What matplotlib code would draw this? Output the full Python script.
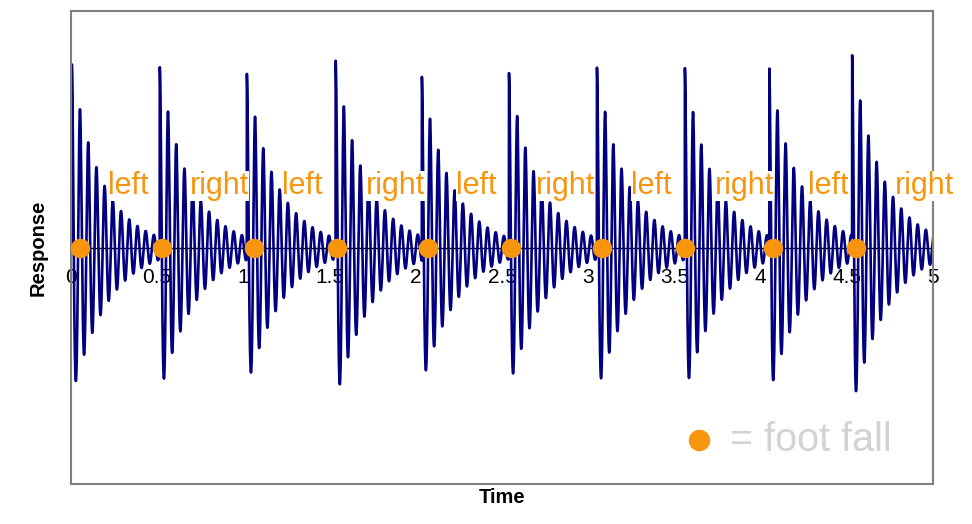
import numpy as np
import matplotlib
matplotlib.use('Agg')
import matplotlib.pyplot as plt

plt.rcParams['font.family'] = ['Liberation Sans', 'DejaVu Sans']

# moments where each foot lands (start of each response burst)
impact_times = [0.005, 0.515, 1.02, 1.535, 2.035, 2.54, 3.05, 3.56, 4.05, 4.53]
# where the orange foot-fall dots sit on the time axis
dot_times = [0.05, 0.53, 1.06, 1.54, 2.07, 2.55, 3.08, 3.56, 4.07, 4.55]
# step labels and their left edges
step_labels = ['left', 'right'] * 5
step_label_x = [0.215, 0.69, 1.224, 1.711, 2.233, 2.697, 3.248, 3.735, 4.275, 4.78]
tick_values = [0, 0.5, 1, 1.5, 2, 2.5, 3, 3.5, 4, 4.5, 5]
tick_labels = ['0', '0.5', '1', '1.5', '2', '2.5', '3', '3.5', '4', '4.5', '5']

# structural modes excited by each foot fall: (amplitude, freq Hz, decay s)
modes = [(0.90, 21.0, 0.19), (0.10, 42.0, 0.08)]

NAVY = '#000080'
ORANGE = '#F7960E'


def response(t):
    y = np.zeros_like(t)
    for t0 in impact_times:
        dt = t - t0
        on = dt >= 0
        for amp, freq, tau in modes:
            y[on] += amp * np.exp(-dt[on] / tau) * np.cos(2 * np.pi * freq * dt[on])
    return y


t = np.linspace(0, 5, 8000)
y = response(t)

fig = plt.figure(figsize=(9.72, 5.24), dpi=100)
ax = fig.add_axes([0.073, 0.0763, 0.887, 0.9027])
ax.plot(t, y, color=NAVY, lw=1.9, zorder=2)
ax.set_xlim(0, 5)
ax.set_ylim(-1.28, 1.29)
ax.set_xticks([])
ax.set_yticks([])
for s in ax.spines.values():
    s.set_color('#808080')
    s.set_linewidth(1.5)

# time axis through zero
ax.axhline(0, color='black', lw=1, zorder=1)
for v, lab in zip(tick_values, tick_labels):
    ax.annotate(lab, (v, 0), xytext=(0, -14), textcoords='offset points',
                ha='center', va='top', fontsize=15, zorder=1)

ax.plot(dot_times, np.zeros(len(dot_times)), 'o', color=ORANGE, ms=14,
        mec='none', zorder=3)

for x, lab in zip(step_label_x, step_labels):
    ax.text(x, 0.34, lab, color=ORANGE, fontsize=22, ha='left', va='center',
            zorder=4, bbox=dict(facecolor='white', edgecolor='none', pad=0),
            clip_on=False)

# foot-fall key
ax.plot([3.645], [-1.04], 'o', color=ORANGE, ms=15.5, mec='none')
ax.text(3.82, -1.04, '= foot fall', color='#D3D3D3', fontsize=28.5,
        ha='left', va='center')

ax.set_xlabel('Time', fontsize=14.5, fontweight='bold', labelpad=3)
ax.set_ylabel('Response', fontsize=14.5, fontweight='bold', labelpad=17)

fig.savefig('out.png', dpi=100)
